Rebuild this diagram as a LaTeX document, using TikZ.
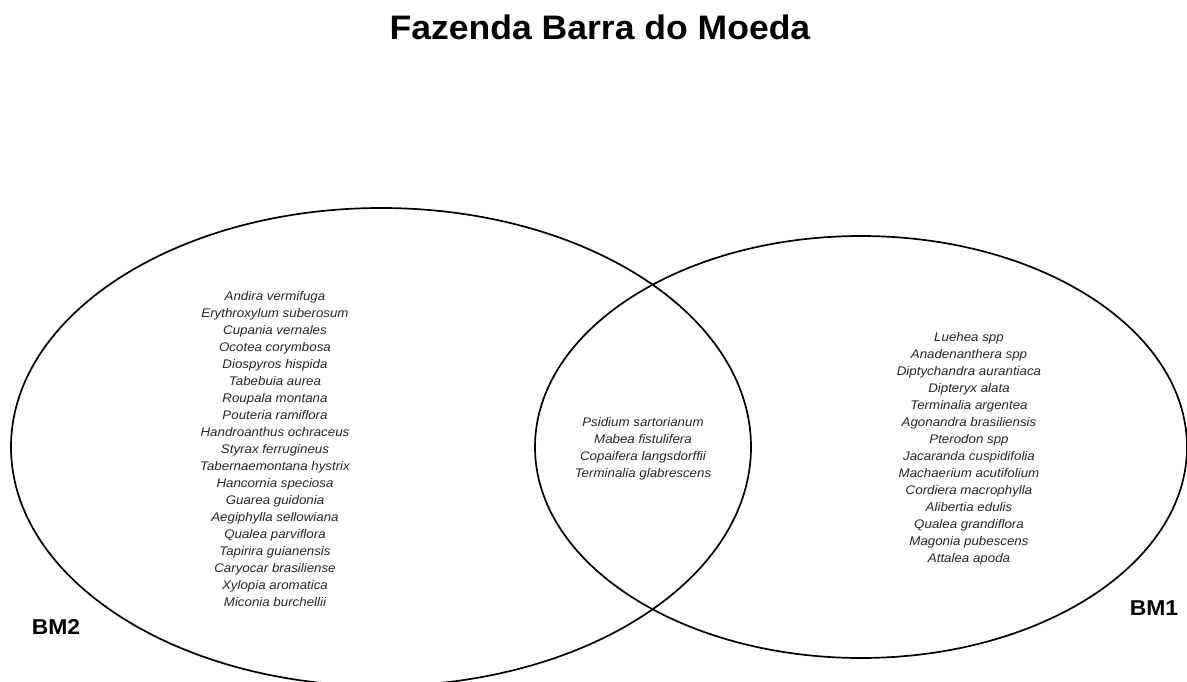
\documentclass[tikz,border=0pt]{standalone}
\usepackage{fontspec}
\setmainfont{Liberation Sans}
\newfontfamily\titlefont[FakeStretch=1.045]{Liberation Sans}
\newfontfamily\widefont[FakeStretch=1.065]{Liberation Sans}
\begin{document}
\begin{tikzpicture}[x=1pt,y=-1pt,
  setline/.style={line width=1.7pt,black},
  species/.style={font=\widefont\fontsize{12.5}{17}\selectfont\itshape,align=center,inner sep=0pt,text=black!85},
  setlabel/.style={font=\widefont\fontsize{21.5}{24}\selectfont\bfseries,inner sep=0pt},
  titlestyle/.style={font=\titlefont\fontsize{34}{38}\selectfont\bfseries,inner sep=0pt}]
\useasboundingbox (0,0) rectangle (1187,682);
\clip (0,0) rectangle (1187,682);
\fill[white] (0,0) rectangle (1187,682);
\node[titlestyle] (title) at (600,27) {Fazenda Barra do Moeda};
\draw[setline] (381,447) ellipse [x radius=370pt, y radius=239pt];
\draw[setline] (861,447) ellipse [x radius=326pt, y radius=211pt];
\node[species] (bm2list) at (275,449) {Andira vermifuga\\Erythroxylum suberosum\\Cupania vernales\\Ocotea corymbosa\\Diospyros hispida\\Tabebuia aurea\\Roupala montana\\Pouteria ramiflora\\Handroanthus ochraceus\\Styrax ferrugineus\\Tabernaemontana hystrix\\Hancornia speciosa\\Guarea guidonia\\Aegiphylla sellowiana\\Qualea parviflora\\Tapirira guianensis\\Caryocar brasiliense\\Xylopia aromatica\\Miconia burchellii};
\node[species] (both) at (643,449) {Psidium sartorianum\\Mabea fistulifera\\Copaifera langsdorffii\\Terminalia glabrescens};
\node[species] (bm1list) at (969,449) {Luehea spp\\Anadenanthera spp\\Diptychandra aurantiaca\\Dipteryx alata\\Terminalia argentea\\Agonandra brasiliensis\\Pterodon spp\\Jacaranda cuspidifolia\\Machaerium acutifolium\\Cordiera macrophylla\\Alibertia edulis\\Qualea grandiflora\\Magonia pubescens\\Attalea apoda};
\node[setlabel] (bm2) at (56,627) {BM2};
\node[setlabel] (bm1) at (1154,608) {BM1};
\end{tikzpicture}
\end{document}
